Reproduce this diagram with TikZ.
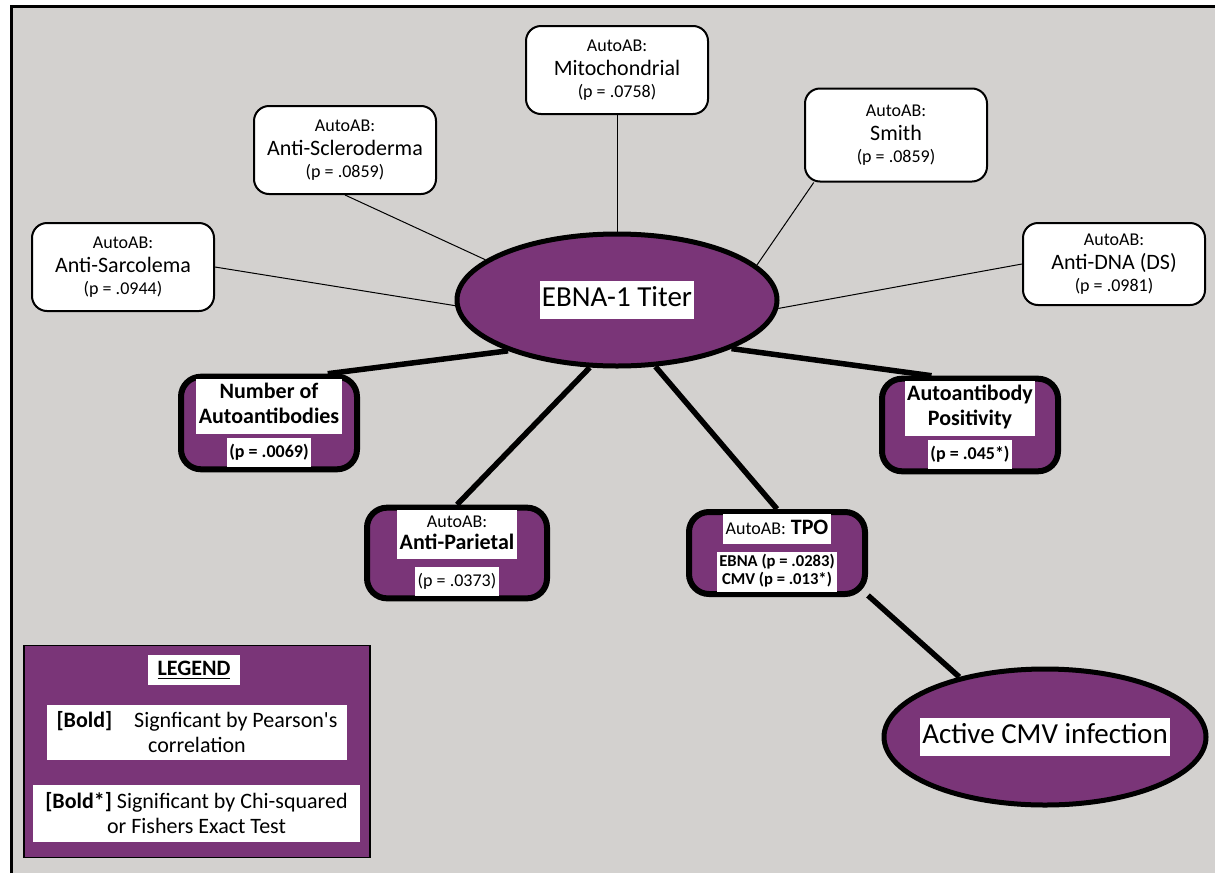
\documentclass[tikz,border=0pt]{standalone}
\usepackage{fontspec}
\setmainfont{Carlito}
\usetikzlibrary{shapes.geometric,backgrounds}
\definecolor{ebnapurple}{RGB}{122,53,120}
\definecolor{panelgrey}{RGB}{211,209,207}
\newcommand{\stxt}{\fontsize{8.3}{8.6}\selectfont}
\newcommand{\ptxt}{\fontsize{9}{11}\selectfont}
\newcommand{\mtxt}{\fontsize{11}{12.5}\selectfont}
\newcommand{\btxt}{\fontsize{14.5}{17}\selectfont}
\newcommand{\wbox}[2][]{{#1\setlength{\fboxsep}{1.2pt}\colorbox{white}{\begin{tabular}{@{}c@{}}#2\end{tabular}}}}

\tikzset{
  autobox/.style={draw, line width=1pt, fill=white, rounded corners=7.5pt,
    align=center, minimum width=91pt, minimum height=44pt, inner sep=2pt, font=\ptxt},
  sigbox/.style={draw, line width=3pt, fill=ebnapurple, rounded corners=10pt,
    align=center, minimum width=88pt, minimum height=41pt, inner sep=1pt, font=\mtxt},
  bigoval/.style={ellipse, draw, line width=2.5pt, fill=ebnapurple,
    minimum width=160pt, minimum height=66pt, inner xsep=-12pt, inner ysep=0pt, font=\btxt},
  legline/.style={fill=white, align=center, inner sep=1pt, font=\mtxt},
  weaklink/.style={line width=0.5pt},
  stronglink/.style={line width=2.75pt},
}

\begin{document}
\begin{tikzpicture}[x=0.5pt, y=-0.5pt]
  \useasboundingbox (0,0) rectangle (1215,873);

  \begin{pgfonlayer}{background}
    \fill[white] (0,0) rectangle (1215,873);
    \fill[panelgrey] (10,5) rectangle (1215,873);
    \draw[line width=1.5pt] (11,873) -- (11,6) -- (1215,6);
  \end{pgfonlayer}

  \node[bigoval] (ebna) at (617,300) {\wbox{EBNA-1 Titer}};

  \node[autobox] (sarc)  at (123,267)  {AutoAB:\\[1pt]{\mtxt Anti-Sarcolema}\\(p = .0944)};
  \node[autobox] (scler) at (345,150)  {AutoAB:\\[1pt]{\mtxt Anti-Scleroderma}\\(p = .0859)};
  \node[autobox] (mito)  at (617,70)   {AutoAB:\\[1pt]{\mtxt Mitochondrial}\\(p = .0758)};
  \node[autobox, minimum height=46.5pt] (smith) at (896,135) {AutoAB:\\[1pt]{\mtxt Smith}\\(p = .0859)};
  \node[autobox, minimum height=41pt]   (dna)   at (1114,264) {AutoAB:\\[1pt]{\mtxt Anti-DNA (DS)}\\(p = .0981)};

  \node[sigbox] (numab) at (269,423)
    {\wbox{\textbf{Number of}\\\textbf{Autoantibodies}}\\[1pt]\wbox{\ptxt\bfseries (p = .0069)}};
  \node[sigbox] (abpos) at (970,425)
    {\wbox{\textbf{Autoantibody}\\\textbf{Positivity}}\\[1pt]\wbox{\ptxt\bfseries (p = .045*)}};
  \node[sigbox, minimum width=90pt] (pariet) at (457,553)
    {\wbox[\ptxt]{AutoAB:\\{\mtxt\bfseries Anti-Parietal}}\\[3pt]\wbox{\ptxt (p = .0373)}};
  \node[sigbox] (tpo) at (777,553)
    {\wbox{{\ptxt AutoAB:} \textbf{TPO}}\\[3pt]\wbox[\stxt\bfseries]{EBNA (p = .0283)\\CMV (p = .013*)}};

  \node[bigoval, minimum width=161pt, minimum height=68pt] (cmv) at (1045,737) {\wbox{Active CMV infection}};

  \node[draw, line width=0.75pt, fill=ebnapurple, minimum width=173pt, minimum height=106pt] (legend) at (197,751.5) {};
  \node[legline, minimum width=46pt, minimum height=15pt] (legtitle) at (194,670) {\textbf{\underline{LEGEND}}};
  \node[legline, minimum width=150pt, minimum height=27.5pt] (legbold) at (197,732)
    {\textbf{[Bold]}\quad Signficant by Pearson\textquotesingle s\\correlation};
  \node[legline, minimum width=163.5pt, minimum height=28.5pt] (legchi) at (196.5,813)
    {\textbf{[Bold*]} Significant by Chi-squared\\or Fishers Exact Test};

  \begin{pgfonlayer}{background}
    \draw[weaklink] (sarc.east) -- (ebna.182);
    \draw[weaklink] (scler.south) -- (ebna.163);
    \draw[weaklink] (mito.south) -- (ebna.north);
    \draw[weaklink] (smith.210) -- (ebna.14);
    \draw[weaklink] (dna.west) -- (ebna.-3);

    \draw[stronglink] (numab.40) -- (ebna.205);
    \draw[stronglink] (abpos.128) -- (ebna.-23);
    \draw[stronglink] (pariet.north) -- (ebna.248);
    \draw[stronglink] (tpo.north) -- (ebna.300);
    \draw[stronglink] (tpo.-25) -- (cmv.145);
  \end{pgfonlayer}
\end{tikzpicture}
\end{document}
